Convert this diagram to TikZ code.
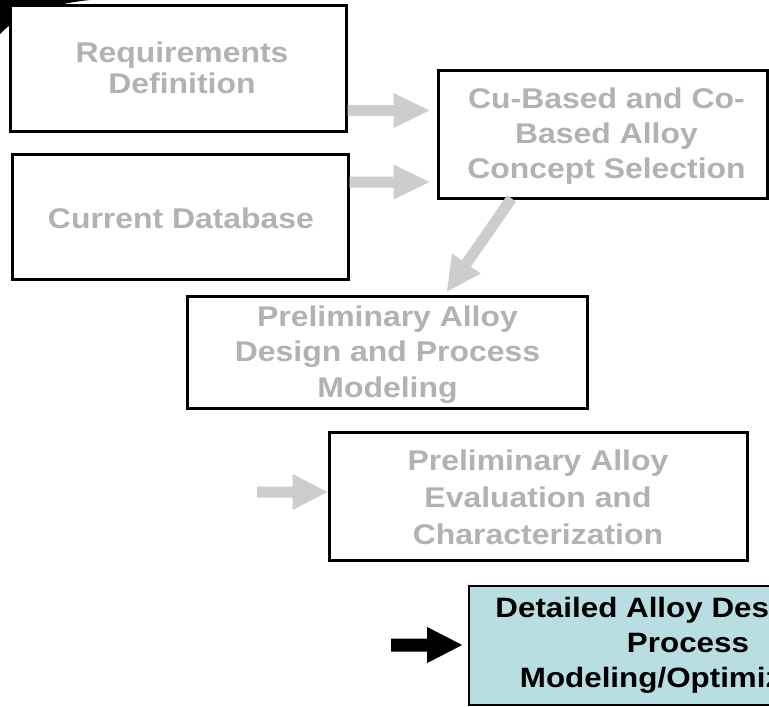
\documentclass[tikz,border=0pt]{standalone}
\usepackage{fontspec}
\setmainfont{Liberation Sans}[FakeStretch=1.12]
\usetikzlibrary{calc}

\definecolor{labelgray}{RGB}{178,178,178}
\definecolor{arrowgray}{RGB}{205,205,205}
\definecolor{paleblue}{RGB}{184,222,226}

% block arrow: start, tip, shaft half-width, head half-width, head length, fill colour
\newcommand{\blockarrow}[6]{%
  \coordinate (ba-h) at ($(#2)!#5!(#1)$);
  \fill[#6] ($(#1)!#3!90:(ba-h)$) -- ($(ba-h)!#3!-90:(#1)$) -- ($(ba-h)!#4!-90:(#1)$)
    -- (#2) -- ($(ba-h)!#4!90:(#1)$) -- ($(ba-h)!#3!90:(#1)$) -- ($(#1)!#3!-90:(ba-h)$) -- cycle;
}

\tikzset{
  stagebox/.style={draw=black, line width=3pt, fill=white, inner sep=0pt},
  activebox/.style={draw=black, line width=1.6pt, fill=paleblue, inner sep=0pt},
  stagetext/.style={text=labelgray, align=center, inner sep=0pt, anchor=base,
    font=\bfseries\fontsize{28.5}{#1}\selectfont},
  activetext/.style={text=black, align=center, inner sep=0pt, anchor=base,
    font=\bfseries\fontsize{28}{#1}\selectfont},
}

\begin{document}
\begin{tikzpicture}[x=1pt, y=-1pt]
\useasboundingbox (0,0) rectangle (769,707);
\clip (0,0) rectangle (769,707);

% dark swoosh in the upper left corner
\fill[black] (0,0) -- (90,0) .. controls (60,3) and (20,12) .. (0,34) -- cycle;

% boxes
\node[stagebox, minimum width=336pt, minimum height=126pt] (req) at (178,68) {};
\node[stagebox, minimum width=336pt, minimum height=125pt] (db) at (180,216.5) {};
\node[stagebox, minimum width=329pt, minimum height=128pt] (cu) at (602.5,134) {};
\node[stagebox, minimum width=400pt, minimum height=112pt] (pre) at (387,352) {};
\node[stagebox, minimum width=418pt, minimum height=128pt] (eval) at (538,496) {};
\node[activebox, minimum width=458pt, minimum height=119pt] (det) at (698,645.5) {};

% arrow end points
\coordinate (a1s) at (req.east |- 0,110.5);
\coordinate (a1e) at ($(cu.west |- 0,110.5)+(-7,0)$);
\coordinate (a2s) at (db.east |- 0,182);
\coordinate (a2e) at ($(cu.west |- 0,182)+(-7,0)$);
\coordinate (a3s) at ($(cu.south)+(-91,-1)$);
\coordinate (a3e) at ($(pre.north)+(60,-3)$);
\coordinate (a4s) at (257,492);
\coordinate (a4e) at (eval.west |- 0,492);
\coordinate (a5s) at (391,645);
\coordinate (a5e) at ($(det.west |- 0,645)+(-6,0)$);

\blockarrow{a1s}{a1e}{5.5pt}{17.5pt}{36pt}{arrowgray}
\blockarrow{a2s}{a2e}{5.5pt}{17.5pt}{36pt}{arrowgray}
\blockarrow{a3s}{a3e}{5.5pt}{17.5pt}{34pt}{arrowgray}
\blockarrow{a4s}{a4e}{5.5pt}{18pt}{35pt}{arrowgray}
\blockarrow{a5s}{a5e}{6.5pt}{18pt}{35pt}{black}

% texts (anchored at the baseline of the last line)
\node[stagetext=30.6] (reqlbl) at (182,93) {Requirements\\Definition};
\node[stagetext=35] (dblbl) at (181,228) {Current Database};
\node[stagetext=35] (culbl) at (606.5,178) {Cu-Based and Co-\\Based Alloy\\Concept Selection};
\node[stagetext=35.5] (prelbl) at (387.5,397) {Preliminary Alloy\\Design and Process\\Modeling};
\node[stagetext=37] (evallbl) at (538,544) {Preliminary Alloy\\Evaluation and\\Characterization};
\node[activetext=35] (detlbl) at (688,687) {Detailed Alloy Design and\\Process\\Modeling/Optimization};
\end{tikzpicture}
\end{document}
